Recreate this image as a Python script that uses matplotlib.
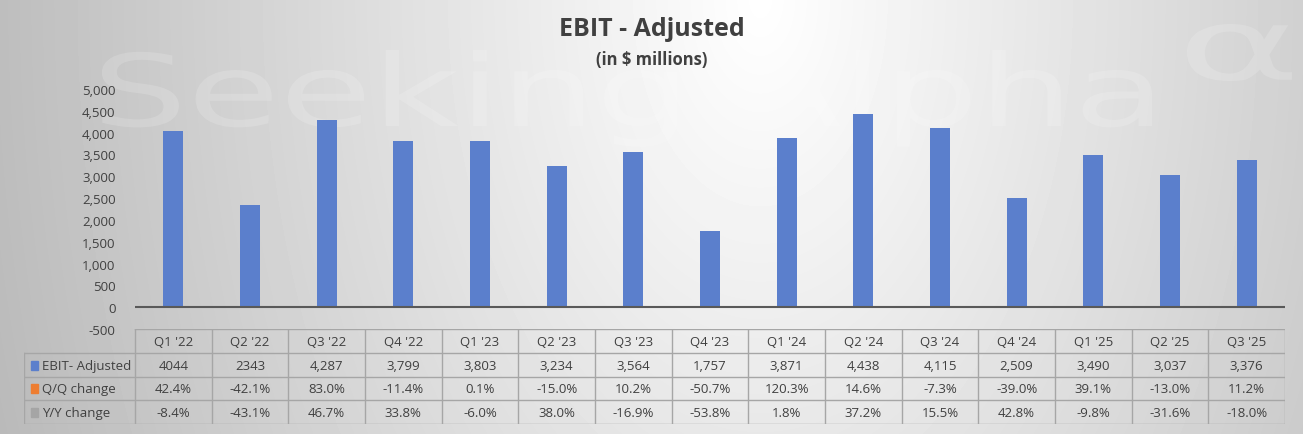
import numpy as np
import matplotlib.pyplot as plt
from matplotlib.patches import Rectangle, PathPatch
from matplotlib.textpath import TextPath
from matplotlib.font_manager import FontProperties
from matplotlib.transforms import Affine2D

plt.rcParams['font.family'] = ['Open Sans', 'DejaVu Sans']

# data
quarters = ["Q1 '22", "Q2 '22", "Q3 '22", "Q4 '22", "Q1 '23", "Q2 '23", "Q3 '23", "Q4 '23",
            "Q1 '24", "Q2 '24", "Q3 '24", "Q4 '24", "Q1 '25", "Q2 '25", "Q3 '25"]
ebit = [4044, 2343, 4287, 3799, 3803, 3234, 3564, 1757, 3871, 4438, 4115, 2509, 3490, 3037, 3376]
ebit_labels = ["4044", "2343", "4,287", "3,799", "3,803", "3,234", "3,564", "1,757",
               "3,871", "4,438", "4,115", "2,509", "3,490", "3,037", "3,376"]
qq_change = ["42.4%", "-42.1%", "83.0%", "-11.4%", "0.1%", "-15.0%", "10.2%", "-50.7%",
             "120.3%", "14.6%", "-7.3%", "-39.0%", "39.1%", "-13.0%", "11.2%"]
yy_change = ["-8.4%", "-43.1%", "46.7%", "33.8%", "-6.0%", "38.0%", "-16.9%", "-53.8%",
             "1.8%", "37.2%", "15.5%", "42.8%", "-9.8%", "-31.6%", "-18.0%"]
row_names = ["EBIT- Adjusted", "Q/Q change", "Y/Y change"]
row_colors = ["#5b7fcc", "#ed7d31", "#a5a5a5"]

W, H = 1303, 435
fig = plt.figure(figsize=(W / 100, H / 100), dpi=100)

# background gradient
bg = fig.add_axes([0, 0, 1, 1])
yy, xx = np.mgrid[0:H, 0:W]
d = np.sqrt(((xx - 760) / 800.0) ** 2 + (yy / 1300.0) ** 2)
shade = np.clip(1 - 0.27 * d, 0, 1)
bg.imshow(shade, cmap='gray', vmin=0, vmax=1, extent=[0, W, H, 0], aspect='auto')
bg.set_xlim(0, W)
bg.set_ylim(H, 0)
bg.axis('off')

# faint watermark, stretched sideways
wm_font = FontProperties(family='DejaVu Sans')
wm = TextPath((0, 0), "Seeking Alpha", size=100, prop=wm_font)
wm_w = wm.get_extents().x1
tr = Affine2D().scale(1060 / wm_w, -1.0).translate(92, 127) + bg.transData
bg.add_patch(PathPatch(wm, transform=tr, facecolor='white', edgecolor='none', alpha=0.16))
al = TextPath((0, 0), "\u03b1", size=100, prop=wm_font)
ext = al.get_extents()
tr2 = Affine2D().translate(-ext.x0, -ext.y0).scale(105 / ext.width, -57 / ext.height) \
    .translate(1187, 82) + bg.transData
bg.add_patch(PathPatch(al, transform=tr2, facecolor='white', edgecolor='none', alpha=0.16))

txt = '#404040'
fig.text(0.5, 1 - 29 / H, "EBIT - Adjusted", ha='center', va='center',
         fontsize=18, fontweight='bold', color=txt)
fig.text(0.5, 1 - 60 / H, "(in $ millions)", ha='center', va='center',
         fontsize=12, fontweight='bold', color=txt)

# main plot
x0, x1 = 135, 1285
ytop, ybot = 90, 330
ax = fig.add_axes([x0 / W, 1 - ybot / H, (x1 - x0) / W, (ybot - ytop) / H])
ax.patch.set_alpha(0)
xs = np.arange(len(quarters))
ax.bar(xs, ebit, width=0.26, color=row_colors[0], zorder=2)
ax.axhline(0, color='#595959', lw=1.5, zorder=3)
ax.set_xlim(-0.5, len(quarters) - 0.5)
ax.set_ylim(-500, 5000)
ax.set_yticks(np.arange(-500, 5001, 500))
ax.set_yticklabels([f"{v:,}" for v in range(-500, 5001, 500)])
ax.tick_params(axis='y', length=0, pad=14, labelsize=9.5, labelcolor=txt)
ax.set_xticks([])
for s in ax.spines.values():
    s.set_visible(False)

# data table
lab_x0 = 24
colw = (x1 - x0) / len(quarters)
tb_top, tb_bot = 330, 425
tb = fig.add_axes([lab_x0 / W, 1 - tb_bot / H, (x1 - lab_x0) / W, (tb_bot - tb_top) / H])
tb.set_xlim(-0.5 - (x0 - lab_x0) / colw, len(quarters) - 0.5)
tb.set_ylim(4, 0)
tb.axis('off')
grid = '#a6a6a6'
xl = -0.5 - (x0 - lab_x0) / colw
tb.plot([-0.5, len(quarters) - 0.5], [0, 0], color=grid, lw=1)
for r in range(1, 5):
    tb.plot([xl, len(quarters) - 0.5], [r, r], color=grid, lw=1)
for c in range(len(quarters) + 1):
    tb.plot([c - 0.5, c - 0.5], [0, 4], color=grid, lw=1)
tb.plot([xl, xl], [1, 4], color=grid, lw=1)

rows = [ebit_labels, qq_change, yy_change]
for i, q in enumerate(quarters):
    tb.text(i, 0.52, q, ha='center', va='center', fontsize=9.5, color=txt)
    for r, vals in enumerate(rows):
        tb.text(i, r + 1.52, vals[i], ha='center', va='center', fontsize=9.5, color=txt)
for r, name in enumerate(row_names):
    tb.add_patch(Rectangle((xl + 0.09, r + 1.33), 0.09, 0.38, color=row_colors[r], clip_on=False))
    tb.text(xl + 0.24, r + 1.52, name, ha='left', va='center', fontsize=9.5, color=txt)

fig.savefig('out.png', dpi=100)
